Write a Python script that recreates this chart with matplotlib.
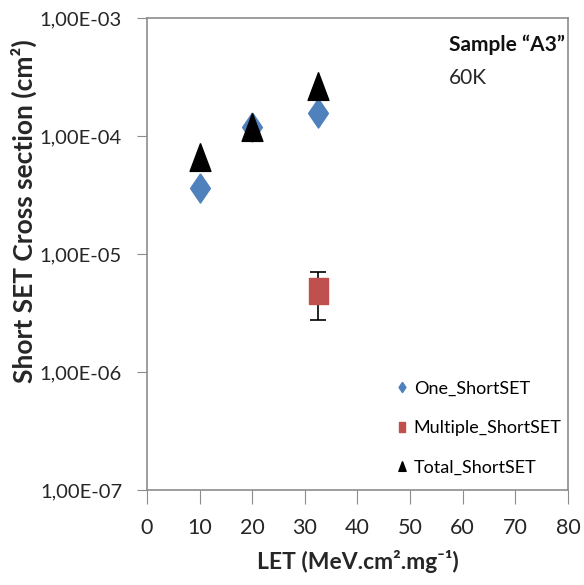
import numpy as np
import matplotlib
matplotlib.use("Agg")
import matplotlib.pyplot as plt
from matplotlib.ticker import FixedLocator, FuncFormatter, NullLocator

plt.rcParams['font.family'] = ['Lato', 'DejaVu Sans']

# data
let_one = [10, 20, 32.5]
one_short = [3.6e-5, 1.19e-4, 1.57e-4]

let_multi = [32.5]
multi_short = [4.9e-6]
multi_err_lo = [4.9e-6 - 2.75e-6]
multi_err_hi = [7.0e-6 - 4.9e-6]

let_total = [10, 20, 32.5]
total_short = [6.6e-5, 1.19e-4, 2.63e-4]

x_ticks = [0, 10, 20, 30, 40, 50, 60, 70, 80]
y_ticks = [1e-7, 1e-6, 1e-5, 1e-4, 1e-3]

diamond = [(0, 1), (0.68, 0), (0, -1), (-0.68, 0), (0, 1)]
tri = [(0, 1), (-0.75, -1), (0.75, -1), (0, 1)]
rect = [(-0.72, -1), (0.72, -1), (0.72, 1), (-0.72, 1), (-0.72, -1)]

fig = plt.figure(figsize=(5.84, 5.85), dpi=100)
ax = fig.add_axes([0.2517, 0.1624, 0.7209, 0.8068])

ax.plot(let_one, one_short, linestyle='none', marker=diamond, markersize=21,
        color='#4F81BD', label='One_ShortSET', zorder=3)
ax.errorbar(let_multi, multi_short, yerr=[multi_err_lo, multi_err_hi],
            fmt='none', ecolor='black', elinewidth=1.2, capsize=6, capthick=1.2, zorder=2)
ax.plot(let_multi, multi_short, linestyle='none', marker=rect, markersize=19,
        color='#C0504D', label='Multiple_ShortSET', zorder=4)
ax.plot(let_total, total_short, linestyle='none', marker=tri, markersize=20,
        color='black', label='Total_ShortSET', zorder=5)

ax.set_yscale('log')
ax.set_ylim(1e-7, 1e-3)
ax.set_xlim(0, 80)
ax.xaxis.set_major_locator(FixedLocator(x_ticks))
ax.yaxis.set_major_locator(FixedLocator(y_ticks))
ax.yaxis.set_minor_locator(NullLocator())
ax.yaxis.set_major_formatter(FuncFormatter(lambda v, p: ('%.2E' % v).replace('.', ',')))

for s in ax.spines.values():
    s.set_color('#8c8c8c')
    s.set_linewidth(1.2)
ax.tick_params(axis='both', colors='#8c8c8c', labelcolor='#262626')
ax.tick_params(axis='y', direction='out', length=7, pad=11, labelsize=14.5)
ax.tick_params(axis='x', direction='out', length=10, pad=10, labelsize=15.5)

ax.set_xlabel('LET (MeV.cm\u00b2.mg\u207b\u00b9)', fontsize=16.5, fontweight='bold',
              color='#262626', labelpad=9)
ax.set_ylabel('Short SET Cross section (cm\u00b2)', fontsize=19, fontweight='bold',
              color='#262626')
ax.yaxis.set_label_coords(-0.262, 0.591)

ax.text(0.718, 0.943, 'Sample \u201cA3\u201d', transform=ax.transAxes, fontsize=15,
        fontweight='bold', color='#111111', va='center')
ax.text(0.718, 0.873, '60K', transform=ax.transAxes, fontsize=15,
        color='#262626', va='center')

leg = ax.legend(loc='upper left', bbox_to_anchor=(0.595, 0.232), frameon=False,
                fontsize=13, markerscale=0.35, handlelength=0.5, handletextpad=0.4,
                labelspacing=1.3, borderaxespad=0, borderpad=0)

fig.savefig('out.png', dpi=100)
